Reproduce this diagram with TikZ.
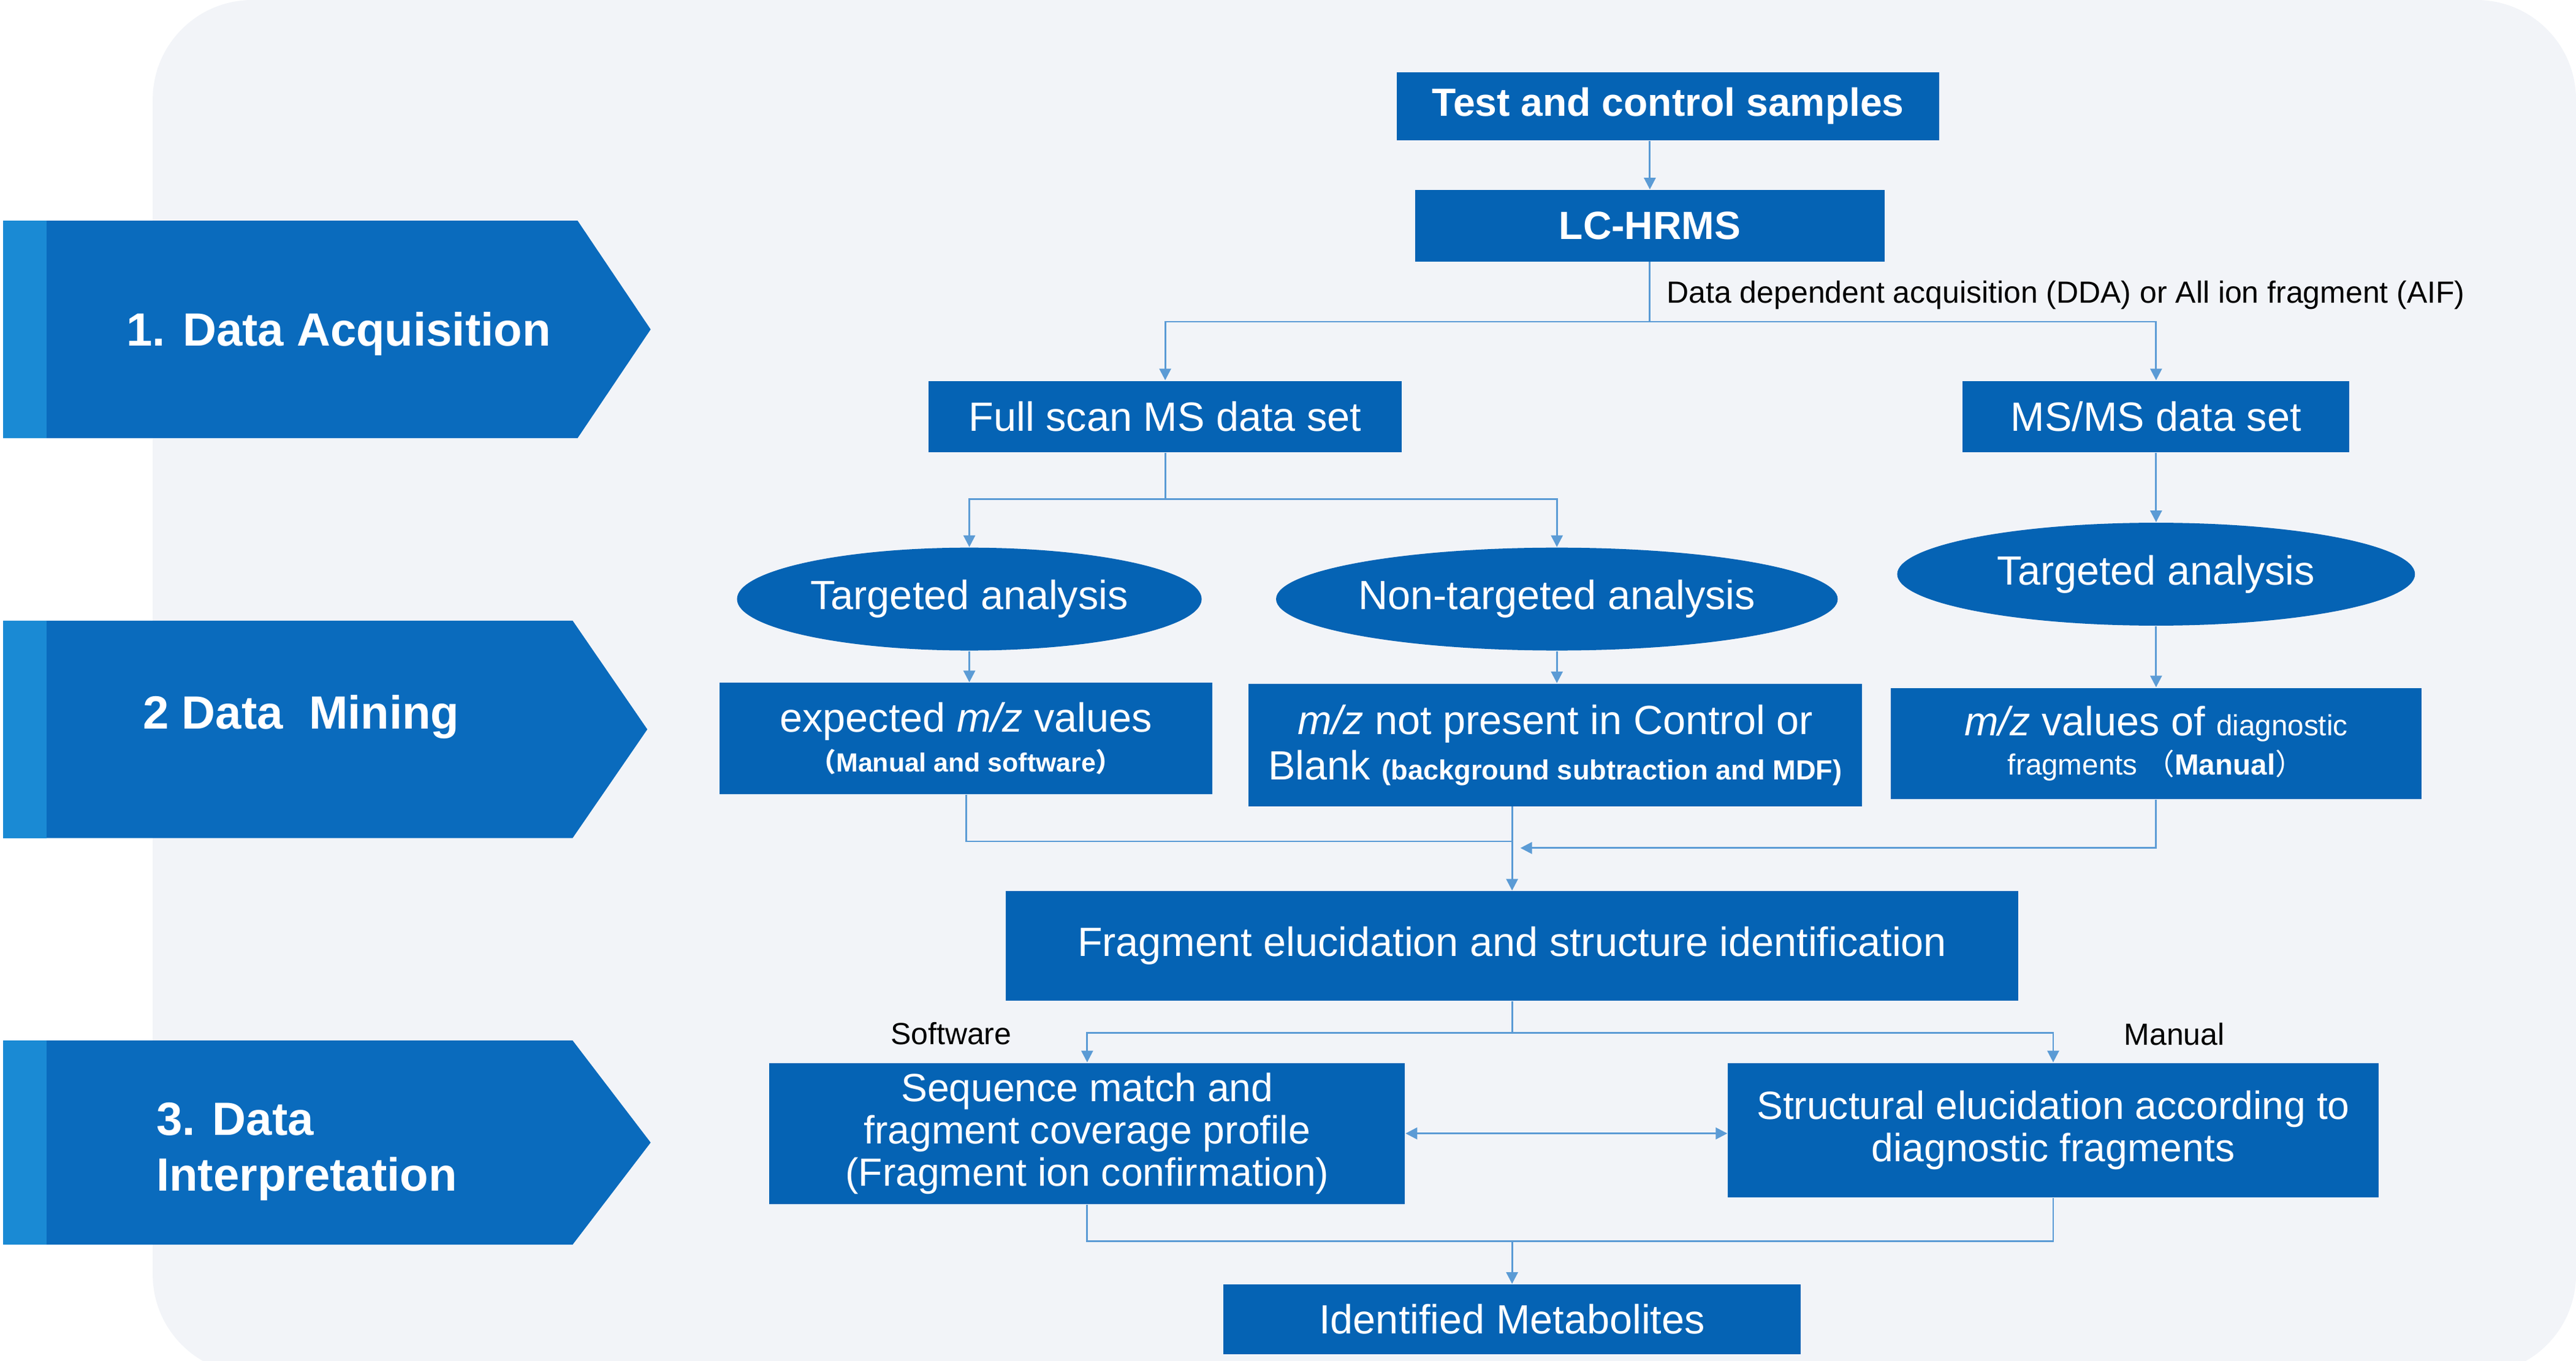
\documentclass[tikz,border=0pt]{standalone}
\usepackage{fontspec}
\setmainfont{Liberation Sans}
\newfontfamily\cjk{Noto Sans CJK SC}
\usetikzlibrary{arrows.meta,shapes.geometric,positioning}
\definecolor{bgpanel}{HTML}{F2F4F8}
\definecolor{boxblue}{HTML}{0563B4}
\definecolor{stepblue}{HTML}{0A6BBD}
\definecolor{steplight}{HTML}{1A8AD4}
\definecolor{linkblue}{HTML}{5B9BD5}
\tikzset{
  box/.style={fill=boxblue, text=white, inner sep=0pt, align=center, font=\fontsize{14}{15.5}\selectfont},
  oval/.style={ellipse, fill=boxblue, text=white, inner sep=0pt, font=\fontsize{14}{15.5}\selectfont},
  link/.style={draw=linkblue, line width=0.6pt},
  flow/.style={link, -{Triangle[length=4pt,width=4pt]}},
  phase/.style={text=white, font=\bfseries\fontsize{16}{19}\selectfont, align=left, anchor=west},
  note/.style={text=black, font=\fontsize{10.5}{12}\selectfont}
}
\begin{document}
\begin{tikzpicture}[x=0.02cm, y=-0.02cm]
\useasboundingbox (0,0) rectangle (1552,820);
% background panel
\fill[bgpanel, rounded corners=1.2cm] (92,0) rectangle (1552,828);
% phase arrows
\foreach \ya/\yb/\xs/\xt in {133/264/348/392, 374/505/345/390, 627/750/345/392}{
  \fill[stepblue] (2,\ya) -- (\xs,\ya) -- (\xt,{(\ya+\yb)/2}) -- (\xs,\yb) -- (2,\yb) -- cycle;
  \fill[steplight] (2,\ya) rectangle (28,\yb);
}
\node[phase] (acq) at (70,201) {1. Data Acquisition};
\node[phase] (mine) at (80,432) {2 Data\ \ Mining};
\node[phase] (interp) at (88,694) {3. Data\\Interpretation};

% boxes
\node[box, minimum width=6.54cm, minimum height=0.82cm, font=\bfseries\fontsize{13.5}{15}\selectfont] (samples) at (1005,64) {Test and control samples};
\node[box, minimum width=5.66cm, minimum height=0.86cm, font=\bfseries\fontsize{13.5}{15}\selectfont] (lchrms) at (994,136) {LC-HRMS};
\node[box, minimum width=5.7cm, minimum height=0.86cm] (full) at (702,251) {Full scan MS data set};
\node[box, minimum width=4.66cm, minimum height=0.86cm] (msms) at (1299,251) {MS/MS data set};
\node[oval, minimum width=5.6cm, minimum height=1.24cm] (targL) at (584,361) {Targeted analysis};
\node[oval, minimum width=6.52cm, minimum height=1.24cm] (nontarg) at (938,361) {Non-targeted analysis};
\node[oval, minimum width=6.24cm, minimum height=1.24cm] (targR) at (1299,346) {Targeted analysis};
\node[box, minimum width=5.94cm, minimum height=1.34cm] (expected) at (582,445) {expected \textit{m/z} values\\[-2pt]{\bfseries\fontsize{9}{11}\selectfont{\cjk （}Manual and software{\cjk ）}}};
\node[box, minimum width=7.4cm, minimum height=1.48cm] (notpresent) at (937,449) {\textit{m/z} not present in Control or\\Blank {\bfseries\fontsize{9.5}{11}\selectfont (background subtraction and MDF)}};
\node[box, minimum width=6.4cm, minimum height=1.34cm] (diag) at (1299,448) {\textit{m/z} values of {\fontsize{10}{12}\selectfont diagnostic}\\[-2pt]{\fontsize{10}{12}\selectfont fragments {\cjk （}\textbf{Manual}{\cjk ）}}};
\node[box, minimum width=12.2cm, minimum height=1.32cm] (frag) at (911,570) {Fragment elucidation and structure identification};
\node[box, minimum width=7.66cm, minimum height=1.7cm, font=\fontsize{13.5}{14.5}\selectfont] (seq) at (655,683) {Sequence match and\\fragment coverage profile\\(Fragment ion confirmation)};
\node[box, minimum width=7.84cm, minimum height=1.62cm, font=\fontsize{13.5}{14.5}\selectfont] (struct) at (1237,681) {Structural elucidation according to\\diagnostic fragments};
\node[box, minimum width=6.96cm, minimum height=0.84cm] (ident) at (911,795) {Identified Metabolites};

% labels
\node[note, anchor=west] (ddalbl) at (998,178) {Data dependent acquisition (DDA) or All ion fragment (AIF)};
\node[note] (softlbl) at (573,623) {Software};
\node[note] (manlbl) at (1310,623) {Manual};

% connectors
\draw[flow] (samples.south -| lchrms.north) -- (lchrms.north);
\draw[link] (lchrms.south) -- ++(0,36) coordinate (split1);
\draw[flow] (split1) -| (full.north);
\draw[flow] (split1) -| (msms.north);
\draw[link] (full.south) -- ++(0,28) coordinate (split2);
\draw[flow] (split2) -| (targL.north);
\draw[flow] (split2) -| (nontarg.north -| 938,0);
\draw[flow] (msms) -- (targR);
\draw[flow] (targL) -- (targL |- expected.north);
\draw[flow] (nontarg.south -| 938,0) -- (notpresent.north -| 938,0);
\draw[flow] (targR) -- (diag);
\draw[link] (expected.south) |- (911,507);
\draw[flow] (911,486) -- (frag.north);
\draw[flow] (diag.south) |- (916,511);
\draw[link] (frag.south) -- ++(0,19) coordinate (split3);
\draw[flow] (split3) -| (seq.north);
\draw[flow] (split3) -| (struct.north);
\draw[link, {Triangle[length=4pt,width=4pt]}-{Triangle[length=4pt,width=4pt]}] (seq.east) -- (struct.west |- seq.east);
\draw[link] (seq.south) |- (struct.south |- 0,748) -- (struct.south);
\draw[flow] (911,748) -- (ident.north);
\end{tikzpicture}
\end{document}
